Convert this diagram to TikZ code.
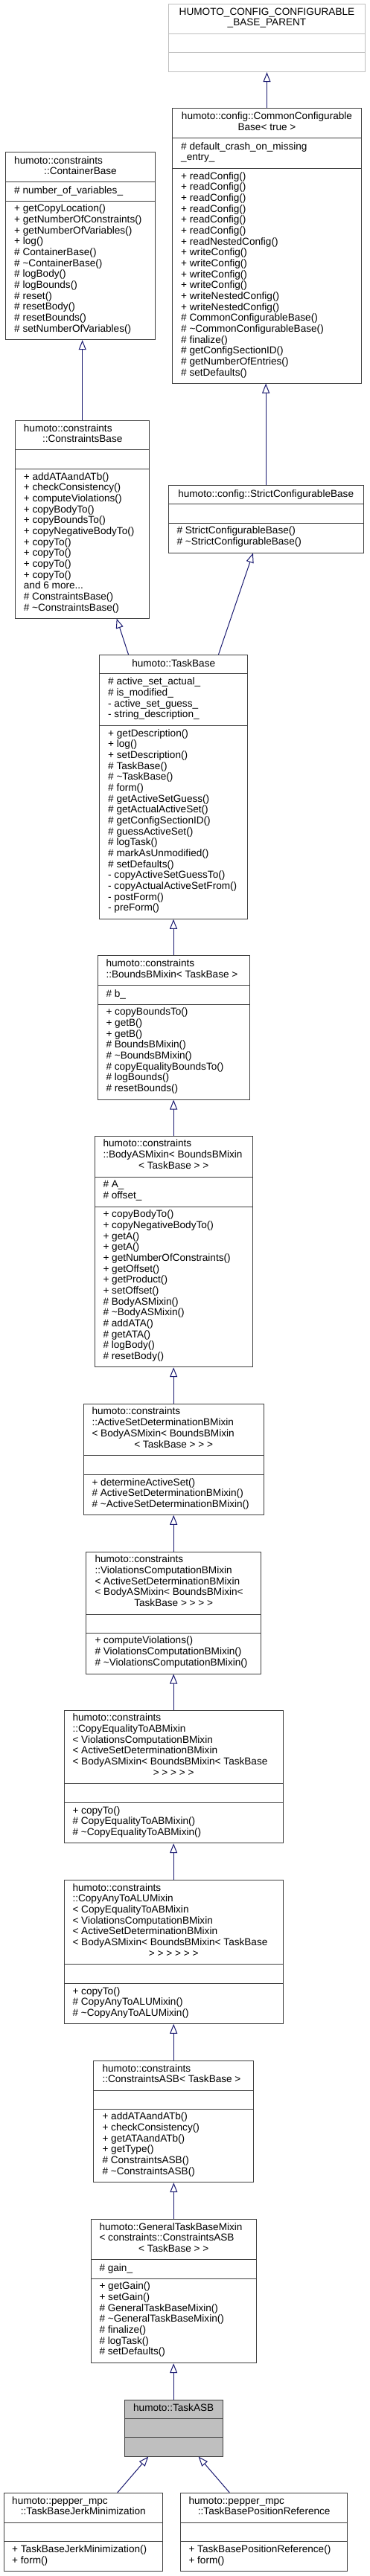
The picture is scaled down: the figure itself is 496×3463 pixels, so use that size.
\documentclass[tikz,border=0pt]{standalone}
\usepackage{fontspec}
\setmainfont{Liberation Sans}
\usepackage{xcolor}
\usepackage{tikz}
\usetikzlibrary{arrows.meta, fit}
\definecolor{umlborder}{RGB}{64,64,64}
\definecolor{umlblue}{RGB}{25,25,112}
\definecolor{umlgrey}{RGB}{191,191,191}
\newcommand{\umlfont}{\fontsize{13.6}{14.67}\selectfont}
\tikzstyle{classbox} = [draw=umlborder, line width=1pt, fill=white, inner sep=0pt]
\tikzstyle{sepline} = [draw=umlborder, line width=1pt]
\tikzstyle{members} = [anchor=north west, inner sep=0pt, align=left, font=\umlfont, execute at begin node={\rule{0pt}{10.3pt}}]
\tikzstyle{heading} = [anchor=north, inner sep=0pt, align=center, font=\umlfont, execute at begin node={\rule{0pt}{10.3pt}}]
\tikzstyle{inherit} = [-{Triangle[open, length=13pt, width=10pt, fill=white]}, line width=1pt, draw=umlblue]

\begin{document}
\begin{tikzpicture}[x=1pt, y=-1pt]
    \useasboundingbox (0,0) rectangle (496,3463);

    \node[classbox, draw=umlgrey, fit={(226.3,5.7) (490.7,96.7)}] (cfgparent) {};
    \draw[sepline, draw=umlgrey] (226.3,45.7) -- (490.7,45.7) (226.3,71) -- (490.7,71);
    \node[heading] (cfgparent-t) at (358.5,10.4) {HUMOTO\_CONFIG\_CONFIGURABLE\\\_BASE\_PARENT};

    \node[classbox, fit={(231.7,145.7) (485.3,515)}] (commonbase) {};
    \draw[sepline] (231.7,185.7) -- (485.3,185.7) (231.7,226) -- (485.3,226);
    \node[heading] (commonbase-t) at (358.5,150.4) {humoto::config::CommonConfigurable\\Base< true >};
    \node[members] (commonbase-a) at (243,191) {\# default\_crash\_on\_missing\\\_entry\_};
    \node[members] (commonbase-m) at (243,231) {+ readConfig()\\+ readConfig()\\+ readConfig()\\+ readConfig()\\+ readConfig()\\+ readConfig()\\+ readNestedConfig()\\+ writeConfig()\\+ writeConfig()\\+ writeConfig()\\+ writeConfig()\\+ writeNestedConfig()\\+ writeNestedConfig()\\\# CommonConfigurableBase()\\\# \textasciitilde CommonConfigurableBase()\\\# finalize()\\\# getConfigSectionID()\\\# getNumberOfEntries()\\\# setDefaults()};

    \node[classbox, fit={(7.7,204.7) (208.3,456.7)}] (containerbase) {};
    \draw[sepline] (7.7,244.7) -- (208.3,244.7) (7.7,270) -- (208.3,270);
    \node[members] (containerbase-t) at (19,209.7) {humoto::constraints};
    \node[heading] (containerbase-t2) at (108,223.7) {::ContainerBase};
    \node[members] (containerbase-a) at (19,249.7) {\# number\_of\_variables\_};
    \node[members] (containerbase-m) at (19,274.7) {+ getCopyLocation()\\+ getNumberOfConstraints()\\+ getNumberOfVariables()\\+ log()\\\# ContainerBase()\\\# \textasciitilde ContainerBase()\\\# logBody()\\\# logBounds()\\\# reset()\\\# resetBody()\\\# resetBounds()\\\# setNumberOfVariables()};

    \node[classbox, fit={(20.7,565) (200.7,831)}] (constraintsbase) {};
    \draw[sepline] (20.7,604.3) -- (200.7,604.3) (20.7,630) -- (200.7,630);
    \node[members] (constraintsbase-t) at (31.7,569.7) {humoto::constraints};
    \node[heading] (constraintsbase-t2) at (110.7,583.7) {::ConstraintsBase};
    \node[members] (constraintsbase-m) at (31.7,635) {+ addATAandATb()\\+ checkConsistency()\\+ computeViolations()\\+ copyBodyTo()\\+ copyBoundsTo()\\+ copyNegativeBodyTo()\\+ copyTo()\\+ copyTo()\\+ copyTo()\\+ copyTo()\\and 6 more...\\\# ConstraintsBase()\\\# \textasciitilde ConstraintsBase()};

    \node[classbox, fit={(226.3,652.7) (488,743)}] (strictbase) {};
    \draw[sepline] (226.3,677.7) -- (488,677.7) (226.3,703.3) -- (488,703.3);
    \node[heading] (strictbase-t) at (357.2,657.7) {humoto::config::StrictConfigurableBase};
    \node[members] (strictbase-m) at (237.3,707.7) {\# StrictConfigurableBase()\\\# \textasciitilde StrictConfigurableBase()};

    \node[classbox, fit={(133.7,880.3) (332.7,1235.3)}] (taskbase) {};
    \draw[sepline] (133.7,905.7) -- (332.7,905.7) (133.7,975) -- (332.7,975);
    \node[heading] (taskbase-t) at (233.2,885.7) {humoto::TaskBase};
    \node[members] (taskbase-a) at (145,910.7) {\# active\_set\_actual\_\\\# is\_modified\_\\- active\_set\_guess\_\\- string\_description\_};
    \node[members] (taskbase-m) at (145,980) {+ getDescription()\\+ log()\\+ setDescription()\\\# TaskBase()\\\# \textasciitilde TaskBase()\\\# form()\\\# getActiveSetGuess()\\\# getActualActiveSet()\\\# getConfigSectionID()\\\# guessActiveSet()\\\# logTask()\\\# markAsUnmodified()\\\# setDefaults()\\- copyActiveSetGuessTo()\\- copyActualActiveSetFrom()\\- postForm()\\- preForm()};

    \node[classbox, fit={(131,1284.7) (335,1478)}] (boundsmixin) {};
    \draw[sepline] (131,1324.3) -- (335,1324.3) (131,1350) -- (335,1350);
    \node[members] (boundsmixin-t) at (142.3,1289.7) {humoto::constraints\\::BoundsBMixin< TaskBase >};
    \node[members] (boundsmixin-a) at (142.3,1330) {\# b\_};
    \node[members] (boundsmixin-m) at (142.3,1354.7) {+ copyBoundsTo()\\+ getB()\\+ getB()\\\# BoundsBMixin()\\\# \textasciitilde BoundsBMixin()\\\# copyEqualityBoundsTo()\\\# logBounds()\\\# resetBounds()};

    \node[classbox, fit={(127,1527.3) (339.3,1837.7)}] (bodymixin) {};
    \draw[sepline] (127,1582) -- (339.3,1582) (127,1622.3) -- (339.3,1622.3);
    \node[members] (bodymixin-t) at (138.3,1531.7) {humoto::constraints\\::BodyASMixin< BoundsBMixin};
    \node[heading] (bodymixin-t2) at (233.2,1561.4) {< TaskBase > >};
    \node[members] (bodymixin-a) at (138.3,1587) {\# A\_\\\# offset\_};
    \node[members] (bodymixin-m) at (138.3,1626.7) {+ copyBodyTo()\\+ copyNegativeBodyTo()\\+ getA()\\+ getA()\\+ getNumberOfConstraints()\\+ getOffset()\\+ getProduct()\\+ setOffset()\\\# BodyASMixin()\\\# \textasciitilde BodyASMixin()\\\# addATA()\\\# getATA()\\\# logBody()\\\# resetBody()};

    \node[classbox, fit={(112.3,1887) (354,2036.3)}] (activemixin) {};
    \draw[sepline] (112.3,1956.7) -- (354,1956.7) (112.3,1982) -- (354,1982);
    \node[members] (activemixin-t) at (123.3,1891.7) {humoto::constraints\\::ActiveSetDeterminationBMixin\\< BodyASMixin< BoundsBMixin};
    \node[heading] (activemixin-t2) at (233.2,1935.7) {< TaskBase > > >};
    \node[members] (activemixin-m) at (123.3,1987) {+ determineActiveSet()\\\# ActiveSetDeterminationBMixin()\\\# \textasciitilde ActiveSetDeterminationBMixin()};

    \node[classbox, fit={(115.7,2086) (350.7,2250)}] (violmixin) {};
    \draw[sepline] (115.7,2170) -- (350.7,2170) (115.7,2195) -- (350.7,2195);
    \node[members] (violmixin-t) at (127.3,2090.7) {humoto::constraints\\::ViolationsComputationBMixin\\< ActiveSetDeterminationBMixin\\< BodyASMixin< BoundsBMixin<};
    \node[heading] (violmixin-t2) at (233.2,2149.4) {TaskBase > > > >};
    \node[members] (violmixin-m) at (127.3,2199.7) {+ computeViolations()\\\# ViolationsComputationBMixin()\\\# \textasciitilde ViolationsComputationBMixin()};

    \node[classbox, fit={(86.3,2299.3) (380,2477.7)}] (eqmixin) {};
    \draw[sepline] (86.3,2397.7) -- (380,2397.7) (86.3,2423.3) -- (380,2423.3);
    \node[members] (eqmixin-t) at (97.3,2303.7) {humoto::constraints\\::CopyEqualityToABMixin\\< ViolationsComputationBMixin\\< ActiveSetDeterminationBMixin\\< BodyASMixin< BoundsBMixin< TaskBase};
    \node[heading] (eqmixin-t2) at (233.2,2377) {> > > > >};
    \node[members] (eqmixin-m) at (97.3,2428) {+ copyTo()\\\# CopyEqualityToABMixin()\\\# \textasciitilde CopyEqualityToABMixin()};

    \node[classbox, fit={(86.3,2527.3) (380,2720.3)}] (alumixin) {};
    \draw[sepline] (86.3,2640.7) -- (380,2640.7) (86.3,2666) -- (380,2666);
    \node[members] (alumixin-t) at (97.3,2532.2) {humoto::constraints\\::CopyAnyToALUMixin\\< CopyEqualityToABMixin\\< ViolationsComputationBMixin\\< ActiveSetDeterminationBMixin\\< BodyASMixin< BoundsBMixin< TaskBase};
    \node[heading] (alumixin-t2) at (233.2,2620.2) {> > > > > >};
    \node[members] (alumixin-m) at (97.3,2671) {+ copyTo()\\\# CopyAnyToALUMixin()\\\# \textasciitilde CopyAnyToALUMixin()};

    \node[classbox, fit={(125.7,2770) (340.7,2933.7)}] (constraintsasb) {};
    \draw[sepline] (125.7,2810.3) -- (340.7,2810.3) (125.7,2835.3) -- (340.7,2835.3);
    \node[members] (constraintsasb-t) at (137.3,2775) {humoto::constraints\\::ConstraintsASB< TaskBase >};
    \node[members] (constraintsasb-m) at (137.3,2839.7) {+ addATAandATb()\\+ checkConsistency()\\+ getATAandATb()\\+ getType()\\\# ConstraintsASB()\\\# \textasciitilde ConstraintsASB()};

    \node[classbox, fit={(122.7,2983.3) (344,3176.7)}] (generalmixin) {};
    \draw[sepline] (122.7,3037.3) -- (344,3037.3) (122.7,3063) -- (344,3063);
    \node[members] (generalmixin-t) at (133.3,2988) {humoto::GeneralTaskBaseMixin\\< constraints::ConstraintsASB};
    \node[heading] (generalmixin-t2) at (233.3,3017.3) {< TaskBase > >};
    \node[members] (generalmixin-a) at (133.3,3042.7) {\# gain\_};
    \node[members] (generalmixin-m) at (133.3,3067.7) {+ getGain()\\+ setGain()\\\# GeneralTaskBaseMixin()\\\# \textasciitilde GeneralTaskBaseMixin()\\\# finalize()\\\# logTask()\\\# setDefaults()};

    \node[classbox, fill=umlgrey, fit={(167,3226) (299.3,3302)}] (taskasb) {};
    \draw[sepline] (167,3251) -- (299.3,3251) (167,3276.7) -- (299.3,3276.7);
    \node[heading] (taskasb-t) at (233.2,3231) {humoto::TaskASB};

    \node[classbox, fit={(5,3351.3) (218.7,3456.7)}] (jerktask) {};
    \draw[sepline] (5,3391) -- (218.7,3391) (5,3416.7) -- (218.7,3416.7);
    \node[members] (jerktask-t) at (16,3355.7) {humoto::pepper\_mpc};
    \node[heading] (jerktask-t2) at (111.8,3370.4) {::TaskBaseJerkMinimization};
    \node[members] (jerktask-m) at (16,3421.7) {+ TaskBaseJerkMinimization()\\+ form()};

    \node[classbox, fit={(242.7,3351.3) (466.7,3456.7)}] (reftask) {};
    \draw[sepline] (242.7,3391) -- (466.7,3391) (242.7,3416.7) -- (466.7,3416.7);
    \node[members] (reftask-t) at (253.3,3355.7) {humoto::pepper\_mpc};
    \node[heading] (reftask-t2) at (354.7,3370.4) {::TaskBasePositionReference};
    \node[members] (reftask-m) at (253.3,3421.7) {+ TaskBasePositionReference()\\+ form()};

    \draw[inherit] (commonbase.north) -- (commonbase.north |- cfgparent.south);
    \draw[inherit] (constraintsbase.north) -- (constraintsbase.north |- containerbase.south);
    \draw[inherit] (strictbase.north) -- (strictbase.north |- commonbase.south);
    \draw[inherit] ([xshift=-60.7pt]taskbase.north) -- ([xshift=46pt]constraintsbase.south);
    \draw[inherit] ([xshift=60.3pt]taskbase.north) -- ([xshift=-17.2pt]strictbase.south);
    \draw[inherit] (boundsmixin.north) -- (boundsmixin.north |- taskbase.south);
    \draw[inherit] (bodymixin.north) -- (bodymixin.north |- boundsmixin.south);
    \draw[inherit] (activemixin.north) -- (activemixin.north |- bodymixin.south);
    \draw[inherit] (violmixin.north) -- (violmixin.north |- activemixin.south);
    \draw[inherit] (eqmixin.north) -- (eqmixin.north |- violmixin.south);
    \draw[inherit] (alumixin.north) -- (alumixin.north |- eqmixin.south);
    \draw[inherit] (constraintsasb.north) -- (constraintsasb.north |- alumixin.south);
    \draw[inherit] (generalmixin.north) -- (generalmixin.north |- constraintsasb.south);
    \draw[inherit] (taskasb.north) -- (taskasb.north |- generalmixin.south);
    \draw[inherit] ([xshift=45.9pt]jerktask.north) -- ([xshift=-33.9pt]taskasb.south);
    \draw[inherit] ([xshift=-46.4pt]reftask.north) -- ([xshift=33.5pt]taskasb.south);
\end{tikzpicture}
\end{document}
